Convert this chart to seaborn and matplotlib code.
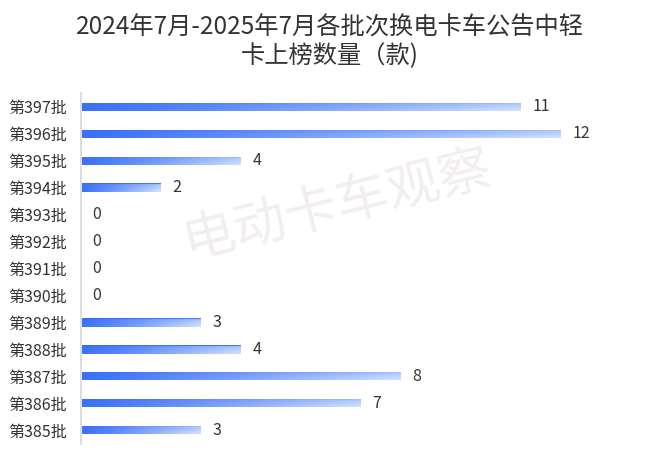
import numpy as np
import pandas as pd
import matplotlib
matplotlib.use("Agg")
import matplotlib.pyplot as plt
import seaborn as sns

# data, top to bottom
batches = ["第397批", "第396批", "第395批", "第394批", "第393批", "第392批", "第391批",
           "第390批", "第389批", "第388批", "第387批", "第386批", "第385批"]
counts = [11, 12, 4, 2, 0, 0, 0, 0, 3, 4, 8, 7, 3]

title = "2024年7月-2025年7月各批次换电卡车公告中轻\n卡上榜数量（款)"

df = pd.DataFrame({"batch": batches, "count": counts})

sns.set_theme(style="white")
plt.rcParams['font.family'] = ['Noto Sans CJK SC', 'DejaVu Sans']

fig = plt.figure(figsize=(6.6, 4.62), dpi=100)
ax = fig.add_axes([81 / 660, 1 - 443.5 / 462, 560 / 660, 350 / 462])

sns.barplot(data=df, x="count", y="batch", orient="h", order=batches,
            color="#3a6ff7", width=0.32, ax=ax)

# gradient fill for every bar: blue on the left, fading to pale blue on the right,
# a bit lighter towards the bottom edge
blue = np.array([0.20, 0.42, 0.97])
pale = np.array([0.80, 0.87, 1.0])
nx, ny = 200, 20
gx = np.linspace(0, 1, nx)[None, :]
gy = np.linspace(0, 1, ny)[:, None]
t = np.clip(0.05 + 0.7 * gx ** 1.2 + 0.3 * gy * gx, 0, 1)
img = blue[None, None, :] * (1 - t[..., None]) + pale[None, None, :] * t[..., None]
img[:2] = blue  # sharper blue top edge

for p in ax.patches:
    w = p.get_width()
    if w <= 0:
        continue
    y0 = p.get_y()
    h = p.get_height()
    p.set_facecolor("none")
    p.set_edgecolor("none")
    im = ax.imshow(img, extent=[0, w, y0 + h, y0], origin="upper",
                   aspect="auto", zorder=2, interpolation="bilinear")
    im.set_clip_path(p)

for i, v in enumerate(counts):
    ax.text(v + 0.28, i, str(v), va="center", ha="left", fontsize=11.5, color="#333333")

ax.set_xlim(0, 14)
ax.set_ylim(len(batches) - 0.5, -0.5)
ax.set_xlabel("")
ax.set_ylabel("")
ax.set_xticks([])
ax.tick_params(axis="y", length=0, pad=10, labelsize=11.5, labelcolor="#333333")
for s in ["top", "right", "bottom"]:
    ax.spines[s].set_visible(False)
ax.spines["left"].set_color("#dddddd")
ax.spines["left"].set_linewidth(1.5)

fig.text(0.5, 1 - 42 / 462, title, ha="center", va="center", fontsize=17.5,
         color="#333333", linespacing=1.1)

# watermark
fig.text(337 / 660, 1 - 205 / 462, "电动卡车观察", ha="center", va="center",
         fontsize=38, color="#f3eeee", rotation=14, zorder=0)

fig.savefig("out.png", dpi=100)
